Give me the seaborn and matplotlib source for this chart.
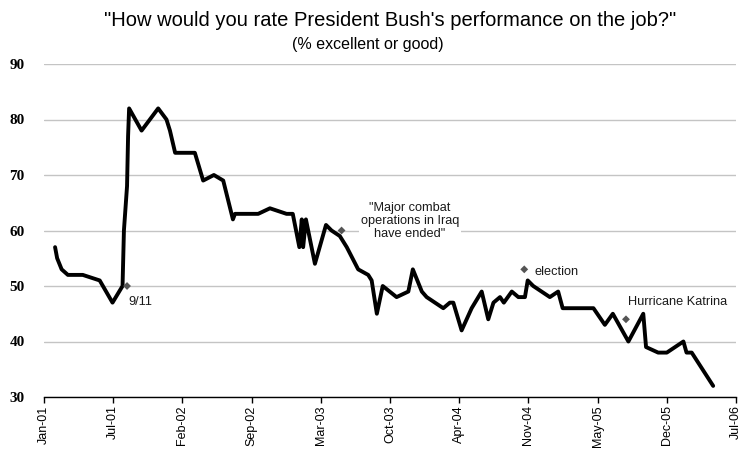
import matplotlib
matplotlib.use("Agg")
import matplotlib.pyplot as plt
import matplotlib.dates as mdates
import matplotlib.ticker as mticker
import seaborn as sns
import pandas as pd
import numpy as np

# ---- data ----
poll_dates = [
    "2001-02-12", "2001-02-18", "2001-03-03", "2001-03-21", "2001-05-03", "2001-06-21",
    "2001-07-28", "2001-08-26", "2001-08-30", "2001-09-08", "2001-09-11", "2001-09-14",
    "2001-10-20", "2001-12-07", "2001-12-31", "2002-01-10", "2002-01-25", "2002-03-23",
    "2002-04-16", "2002-05-17", "2002-06-13", "2002-07-11", "2002-07-17", "2002-09-22",
    "2002-10-26", "2002-12-13", "2002-12-31", "2003-01-19", "2003-01-26", "2003-01-30",
    "2003-02-07", "2003-03-05", "2003-04-06", "2003-04-22", "2003-05-16", "2003-06-05",
    "2003-07-08", "2003-08-06", "2003-08-16", "2003-08-31", "2003-09-17", "2003-10-27",
    "2003-11-30", "2003-12-13", "2004-01-08", "2004-01-22", "2004-03-10", "2004-03-29",
    "2004-04-08", "2004-05-02", "2004-05-31", "2004-06-29", "2004-07-18", "2004-08-02",
    "2004-08-21", "2004-09-01", "2004-09-24", "2004-10-13", "2004-11-01", "2004-11-09",
    "2004-11-25", "2005-01-12", "2005-02-05", "2005-02-18", "2005-05-18", "2005-06-20",
    "2005-07-13", "2005-08-27", "2005-10-09", "2005-10-17", "2005-11-21", "2005-12-16",
    "2006-02-02", "2006-02-11", "2006-02-26", "2006-04-29",
]
approval = [
    57, 55, 53, 52, 52, 51,
    47, 50, 60, 68, 77, 82,
    78, 82, 80, 78, 74, 74,
    69, 70, 69, 62, 63, 63,
    64, 63, 63, 57, 62, 57,
    62, 54, 61, 60, 59, 57,
    53, 52, 51, 45, 50, 48,
    49, 53, 49, 48, 46, 47,
    47, 42, 46, 49, 44, 47,
    48, 47, 49, 48, 48, 51,
    50, 48, 49, 46, 46, 43,
    45, 40, 45, 39, 38, 38,
    40, 38, 38, 32,
]

event_dates = ["2001-09-08", "2003-05-21", "2004-10-30", "2005-08-20"]
event_values = [50, 60, 53, 44]
event_labels = ["9/11", "\"Major combat\noperations in Iraq\nhave ended\"", "election", "Hurricane Katrina"]
label_dates = ["2001-09-11", "2003-12-05", "2004-11-30", "2005-08-26"]
label_values = [47.1, 61.7, 52.5, 47.1]
label_ha = ["left", "center", "left", "left"]

axis_start = "2001-01-11"
tick_step_days = 200
n_ticks = 11
y_ticks = [30, 40, 50, 60, 70, 80, 90]

title = "\"How would you rate President Bush's performance on the job?\""
subtitle = "(% excellent or good)"

# ---- build ----
df = pd.DataFrame({"date": pd.to_datetime(poll_dates), "value": approval})
ev = pd.DataFrame({"date": pd.to_datetime(event_dates), "value": event_values})

sns.set_theme(style="white")
plt.rcParams["font.family"] = ["Liberation Sans", "DejaVu Sans"]

fig = plt.figure(figsize=(7.38, 4.54), dpi=100)
ax = fig.add_axes([44 / 738, 57 / 454, (736 - 44) / 738, (397 - 64) / 454])

sns.lineplot(data=df, x="date", y="value", color="black", linewidth=2.8,
             estimator=None, ax=ax, zorder=3)
sns.scatterplot(data=ev, x="date", y="value", marker="D", s=16, color="#555555",
                edgecolor="none", ax=ax, zorder=4)

start = pd.Timestamp(axis_start)
tick_dates = [start + pd.Timedelta(days=tick_step_days * i) for i in range(n_ticks)]
tick_nums = [mdates.date2num(d) for d in tick_dates]
ax.set_xlim(tick_nums[0], tick_nums[-1])
ax.xaxis.set_major_locator(mticker.FixedLocator(tick_nums))
ax.set_xticklabels([d.strftime("%b-%y") for d in tick_dates], rotation=90,
                   fontsize=9, color="black")
ax.set_ylim(30, 90)
ax.set_yticks(y_ticks)
ax.set_yticklabels([str(v) for v in y_ticks], fontfamily="Liberation Serif",
                   fontweight="bold", fontsize=11, color="black")

ax.set_xlabel("")
ax.set_ylabel("")
for s in ["left", "top", "right"]:
    ax.spines[s].set_visible(False)
ax.spines["bottom"].set_color("black")
ax.spines["bottom"].set_linewidth(1.0)
ax.spines["bottom"].set_zorder(5)
ax.tick_params(axis="x", direction="out", length=4, width=1, color="black", pad=2, bottom=True)
ax.tick_params(axis="y", length=0, pad=14)
ax.yaxis.grid(True, color="#c4c4c4", linewidth=1.0, zorder=0)
ax.xaxis.grid(False)
ax.set_axisbelow(True)

for d, v, lab, ha in zip(label_dates, label_values, event_labels, label_ha):
    kw = {}
    if "\n" in lab:
        kw["bbox"] = dict(facecolor="white", edgecolor="none", pad=1.5)
        kw["linespacing"] = 1.15
    ax.text(mdates.date2num(pd.Timestamp(d)), v, lab, ha=ha, va="center",
            multialignment="center", fontsize=9.2, color="#1a1a1a", zorder=2, **kw)

fig.text(390 / 738, 1 - 20 / 454, title, ha="center", va="center", fontsize=14.5, color="black")
fig.text(368 / 738, 1 - 45 / 454, subtitle, ha="center", va="center", fontsize=11.5, color="black")

fig.savefig("out.png", dpi=100, facecolor="white")
